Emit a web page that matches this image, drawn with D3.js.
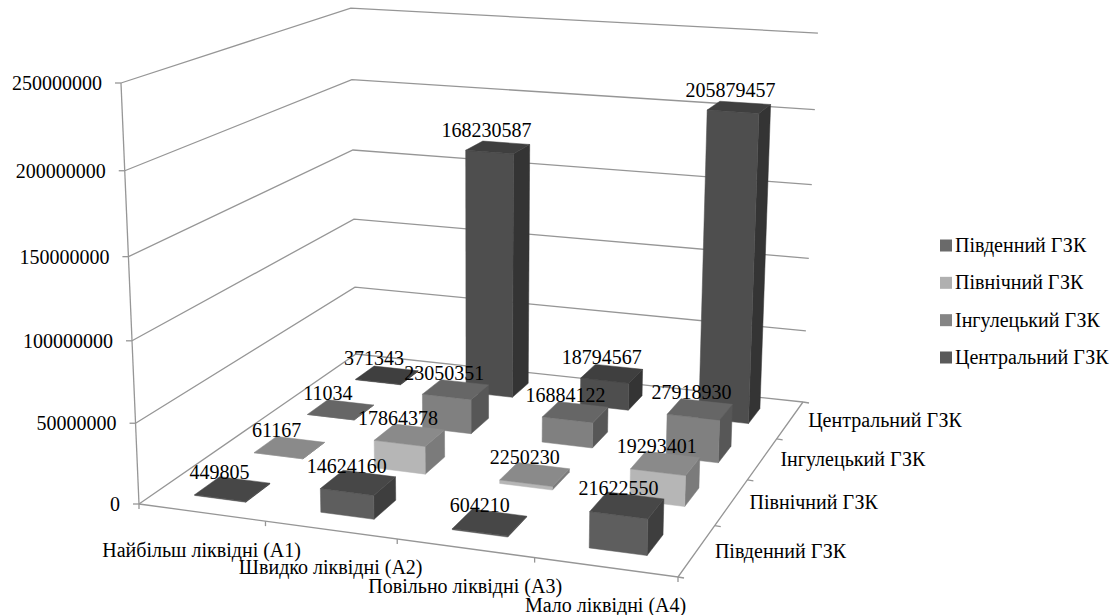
<!DOCTYPE html>
<html>
<head>
<meta charset="utf-8">
<script src="https://cdn.jsdelivr.net/npm/d3@7"></script>
<style>
html, body { margin: 0; padding: 0; background: #fff; }
svg { display: block; }
text { font-family: "Liberation Serif", serif; font-size: 20px; fill: #000; }
</style>
</head>
<body>
<div id="chart"></div>
<script>
'use strict';

// data
const categories = ['Найбільш ліквідні (А1)', 'Швидко ліквідні (А2)', 'Повільно ліквідні (А3)', 'Мало ліквідні (А4)'];
const seriesNames = ['Південний ГЗК', 'Північний ГЗК', 'Інгулецький ГЗК', 'Центральний ГЗК'];
const pivdennyi = [449805, 14624160, 604210, 21622550];
const pivnichnyi = [61167, 17864378, 2250230, 19293401];
const inhuletskyi = [11034, 23050351, 16884122, 27918930];
const tsentralnyi = [371343, 168230587, 18794567, 205879457];
const seriesValues = [pivdennyi, pivnichnyi, inhuletskyi, tsentralnyi];
const valueTicks = [0, 50000000, 100000000, 150000000, 200000000, 250000000];

// front, top and side shades per series, plus the legend swatch
const shades = [
    {front: '#5e5e5e', top: '#474747', side: '#3e3e3e', key: '#6a6a6a'},
    {front: '#b6b6b6', top: '#8a8a8a', side: '#7b7b7b', key: '#b0b0b0'},
    {front: '#808080', top: '#666666', side: '#575757', key: '#858585'},
    {front: '#4e4e4e', top: '#3f3f3f', side: '#343434', key: '#5a5a5a'}
];

const width = 1115, height = 615;
const svg = d3.select('#chart').append('svg').attr('width', width).attr('height', height);

// floor corners on screen: fl front-left, fr front-right, br back-right, bl back-left
const floor = {fl: [139, 504], fr: [678, 577], br: [803, 402], bl: [356, 354]};
// point the vertical edges run to, and how far up the front-left edge reaches
const vanish = [478, 8427];
const topLeftY = 83;
const rise = (topLeftY - floor.fl[1]) / (vanish[1] - topLeftY);

// unit square to quad mapping, homogeneous result
function quadMap(q) {
    let dx1 = q.fr[0] - q.br[0], dx2 = q.bl[0] - q.br[0], sx = q.fl[0] - q.fr[0] + q.br[0] - q.bl[0];
    let dy1 = q.fr[1] - q.br[1], dy2 = q.bl[1] - q.br[1], sy = q.fl[1] - q.fr[1] + q.br[1] - q.bl[1];
    let den = dx1 * dy2 - dx2 * dy1;
    let g = (sx * dy2 - dx2 * sy) / den;
    let h = (dx1 * sy - sx * dy1) / den;
    let a = q.fr[0] - q.fl[0] + g * q.fr[0], b = q.bl[0] - q.fl[0] + h * q.bl[0], c = q.fl[0];
    let d = q.fr[1] - q.fl[1] + g * q.fr[1], e = q.bl[1] - q.fl[1] + h * q.bl[1], f = q.fl[1];
    return function (u, v) {
        return [a * u + b * v + c, d * u + e * v + f, g * u + h * v + 1];
    };
}

const floorMap = quadMap(floor);

const barGap = 0.59;
const xBand = d3.scaleBand().domain(d3.range(categories.length)).range([0, 1]).paddingInner(barGap).paddingOuter(barGap / 2);
const zBand = d3.scaleBand().domain(d3.range(seriesNames.length)).range([0, 1]).paddingInner(barGap).paddingOuter(barGap / 2);
const xStep = d3.scalePoint().domain(d3.range(categories.length + 1)).range([0, 1]);
const zStep = d3.scalePoint().domain(d3.range(seriesNames.length + 1)).range([0, 1]);
const valueScale = d3.scaleLinear().domain([0, 250000000]).range([0, 1]);

function project(u, v, value) {
    let k = rise * valueScale(value);
    let p = floorMap(u, v);
    return [(p[0] + k * vanish[0]) / (p[2] + k), (p[1] + k * vanish[1]) / (p[2] + k)];
}

const line = d3.line();
const gridColor = '#969696';

// walls
let walls = svg.append('g').attr('fill', 'none').attr('stroke', gridColor).attr('stroke-width', 1.3);
valueTicks.forEach(function (tick) {
    walls.append('path').attr('d', line([project(0, 0, tick), project(0, 1, tick), project(1, 1, tick)]));
});
walls.append('path').attr('d', line([project(0, 0, 0), project(0, 0, 250000000)]));

// floor edges and axis ticks
walls.append('path').attr('d', line([project(0, 0, 0), project(1, 0, 0), project(1, 1, 0)]));
xStep.domain().forEach(function (i) {
    let p = project(xStep(i), 0, 0);
    walls.append('path').attr('d', line([p, [p[0], p[1] + 5]]));
});
zStep.domain().forEach(function (i) {
    let p = project(1, zStep(i), 0);
    walls.append('path').attr('d', line([p, [p[0] + 6, p[1] + 1]]));
});

// value axis
valueTicks.forEach(function (tick) {
    let p = project(0, 0, tick);
    walls.append('path').attr('d', line([[p[0] - 6, p[1]], p]));
    svg.append('text')
        .attr('x', p[0] - 19)
        .attr('y', p[1] + 7)
        .attr('text-anchor', 'end')
        .text(d3.format('d')(tick));
});

// bars, back row first
let bars = svg.append('g');
d3.range(seriesNames.length).reverse().forEach(function (s) {
    let v0 = zBand(s), v1 = v0 + zBand.bandwidth();
    seriesValues[s].forEach(function (value, c) {
        let u0 = xBand(c), u1 = u0 + xBand.bandwidth();
        let faces = [
            {fill: shades[s].side, pts: [project(u1, v0, 0), project(u1, v1, 0), project(u1, v1, value), project(u1, v0, value)]},
            {fill: shades[s].front, pts: [project(u0, v0, 0), project(u1, v0, 0), project(u1, v0, value), project(u0, v0, value)]},
            {fill: shades[s].top, pts: [project(u0, v0, value), project(u1, v0, value), project(u1, v1, value), project(u0, v1, value)]}
        ];
        bars.selectAll(null)
            .data(faces)
            .join('path')
            .attr('d', function (d) { return line(d.pts) + 'Z'; })
            .attr('fill', function (d) { return d.fill; })
            .attr('stroke', function (d) { return d.fill; })
            .attr('stroke-width', 0.5);
    });
});

// value labels sit above the middle of each bar top, a little less to the left further right
seriesValues.forEach(function (values, s) {
    values.forEach(function (value, c) {
        let p = project(xBand(c) + xBand.bandwidth() / 2, zBand(s) + zBand.bandwidth() / 2, value);
        svg.append('text')
            .attr('x', p[0] - 13 + 1.5 * c)
            .attr('y', p[1] - 10)
            .attr('text-anchor', 'middle')
            .text(value);
    });
});

// category labels along the front edge
categories.forEach(function (name, c) {
    let p = project(xBand(c) + xBand.bandwidth() / 2, 0, 0);
    svg.append('text')
        .attr('x', p[0])
        .attr('y', p[1] + 44.5)
        .attr('text-anchor', 'middle')
        .text(name);
});

// series labels along the right edge
seriesNames.forEach(function (name, s) {
    let p = project(1, zBand(s) + zBand.bandwidth() / 2, 0);
    svg.append('text')
        .attr('x', p[0] + 18)
        .attr('y', p[1] + 7)
        .text(name);
});

// legend
let legendY = d3.scalePoint().domain(seriesNames).range([245.5, 357.5]);
let legend = svg.append('g');
seriesNames.forEach(function (name, s) {
    legend.append('rect')
        .attr('x', 940)
        .attr('y', legendY(name) - 6)
        .attr('width', 12)
        .attr('height', 12)
        .attr('fill', shades[s].key);
    legend.append('text')
        .attr('x', 955)
        .attr('y', legendY(name) + 6.5)
        .text(name);
});
</script>
</body>
</html>
